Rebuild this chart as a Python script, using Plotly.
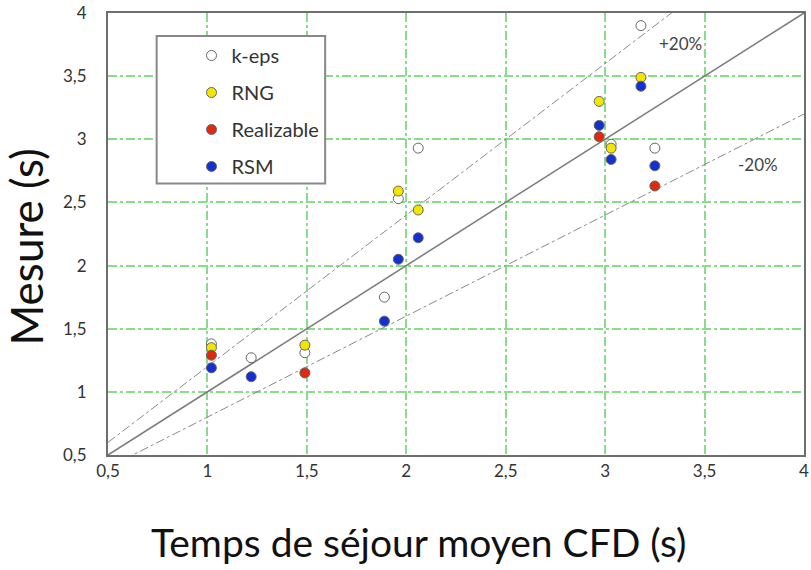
import plotly.graph_objects as go

# Data
keps_x = [1.02, 1.22, 1.49, 1.89, 1.96, 2.06, 3.03, 3.18, 3.25]
keps_y = [1.38, 1.27, 1.31, 1.75, 2.53, 2.93, 2.96, 3.90, 2.93]
rng_x = [1.02, 1.49, 1.96, 2.06, 2.97, 3.03, 3.18]
rng_y = [1.35, 1.37, 2.59, 2.44, 3.30, 2.93, 3.49]
real_x = [1.02, 1.49, 2.97, 3.25]
real_y = [1.29, 1.15, 3.02, 2.63]
rsm_x = [1.02, 1.22, 1.89, 1.96, 2.06, 2.97, 3.03, 3.18, 3.25]
rsm_y = [1.19, 1.12, 1.56, 2.05, 2.22, 3.11, 2.84, 3.42, 2.79]

ref_x = [0.5, 4.0]
ref_y = [0.5, 4.0]
plus20_y = [0.6, 4.8]
minus20_y = [0.4, 3.2]

tick_vals = [0.5, 1, 1.5, 2, 2.5, 3, 3.5, 4]
tick_text = ["0,5", "1", "1,5", "2", "2,5", "3", "3,5", "4"]

FONT = "Lato, 'Open Sans', sans-serif"

fig = go.Figure()
fig.add_trace(go.Scatter(x=ref_x, y=ref_y, mode="lines", showlegend=False,
                         line=dict(color="#7a7a7a", width=1.5)))
fig.add_trace(go.Scatter(x=ref_x, y=plus20_y, mode="lines", showlegend=False,
                         line=dict(color="#8a8a8a", width=1, dash="dashdot")))
fig.add_trace(go.Scatter(x=ref_x, y=minus20_y, mode="lines", showlegend=False,
                         line=dict(color="#8a8a8a", width=1, dash="dashdot")))

series = [
    ("k-eps", keps_x, keps_y, "#ffffff"),
    ("RNG", rng_x, rng_y, "#f2e600"),
    ("Realizable", real_x, real_y, "#dd2a10"),
    ("RSM", rsm_x, rsm_y, "#1530d0"),
]
for name, xs, ys, col in series:
    fig.add_trace(go.Scatter(x=xs, y=ys, mode="markers", name=name, legendgroup=name,
                             marker=dict(size=10, color=col,
                                         line=dict(color="#666666", width=1))))

fig.add_annotation(x=3.38, y=3.76, text="+20%", showarrow=False,
                   font=dict(family=FONT, size=17, color="#444444"))
fig.add_annotation(x=3.77, y=2.80, text="-20%", showarrow=False,
                   font=dict(family=FONT, size=17, color="#444444"))

# axis titles
fig.add_annotation(xref="paper", yref="paper", x=0.4465, y=-0.1975,
                   xanchor="center", yanchor="middle", showarrow=False,
                   text="Temps de séjour moyen CFD (s)",
                   font=dict(family=FONT, size=39, color="#111111"))
fig.add_annotation(xref="paper", yref="paper", x=-0.1177, y=0.4695,
                   xanchor="center", yanchor="middle", showarrow=False, textangle=-90,
                   text="Mesure (s)",
                   font=dict(family=FONT, size=44, color="#111111"))

# legend frame
fig.add_shape(type="rect", xref="paper", yref="paper",
              x0=0.0699, x1=0.312, y0=0.614, y1=0.948,
              line=dict(color="#888888", width=2), fillcolor="white", layer="above")

axis_common = dict(
    tickvals=tick_vals, ticktext=tick_text,
    showgrid=True, gridcolor="#88dd88", griddash="dashdot", gridwidth=1.5,
    showline=True, linecolor="#6e6e6e", linewidth=2, mirror=True,
    ticks="", zeroline=False, ticklabeloverflow="allow",
    tickfont=dict(family=FONT, size=17, color="#333333"),
)
fig.update_xaxes(range=[0.5, 4], **axis_common)
fig.update_yaxes(range=[0.5, 4], ticklabelstandoff=16, **axis_common)

fig.update_layout(
    width=811, height=570,
    margin=dict(l=108, r=2, t=12, b=115),
    plot_bgcolor="white", paper_bgcolor="white",
    font=dict(family=FONT, color="#333333"),
    legend=dict(x=0.12, y=0.948, xanchor="left", yanchor="top",
                bgcolor="rgba(0,0,0,0)", borderwidth=0,
                font=dict(family=FONT, size=20, color="#333333"),
                tracegroupgap=8),
)
fig.write_html("out.html")
